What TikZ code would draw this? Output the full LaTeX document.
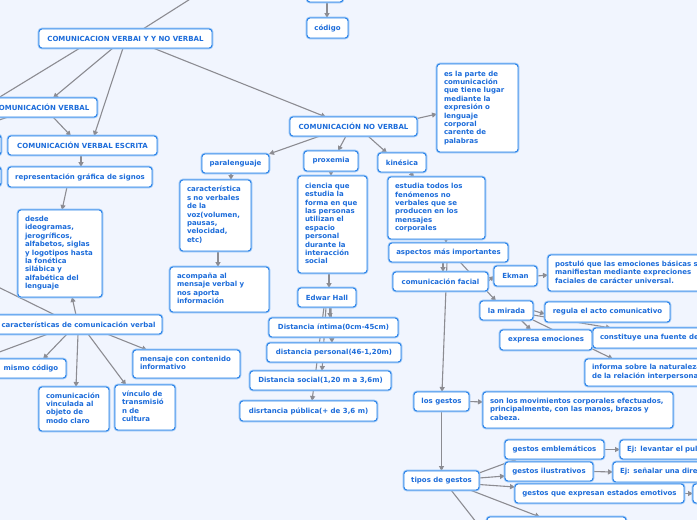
\documentclass[tikz,border=0pt]{standalone}
\usepackage{fontspec}
\newfontfamily\dvs{DejaVu Sans}
\usetikzlibrary{arrows.meta,calc}
\definecolor{bgc}{RGB}{241,245,254}
\definecolor{txt}{RGB}{28,108,218}
\definecolor{bdr}{RGB}{38,128,232}
\definecolor{halo}{RGB}{150,196,246}
\definecolor{lnc}{RGB}{140,140,146}
\pgfdeclarelayer{edges}\pgfdeclarelayer{back}\pgfsetlayers{back,edges,main}
\newcommand\boxS[6]{\node[nbox,minimum width={#4-#2},minimum height={#5-#3}] (#1) at ({(#2+#4)/2},{(#3+#5)/2}) {#6};}
\newcommand\boxM[6]{\pgfmathsetmacro\tw{#4-#2-14}\node[nbox,inner xsep=7pt,align=left,text width=\tw pt,minimum width={#4-#2},minimum height={#5-#3}] (#1) at ({(#2+#4)/2},{(#3+#5)/2}) {\begin{tabular}{@{}l@{}}#6\end{tabular}};}
\begin{document}
\begin{tikzpicture}[x=1pt,y=-1pt,
  nbox/.style={rounded corners=3pt, fill=white, draw=bdr, line width=0.9pt, text=txt,
    font=\dvs\bfseries\fontsize{7}{8.4}\selectfont, inner xsep=3pt, inner ysep=2pt, outer sep=0pt,
    preaction={draw=halo, line width=2.6pt}},
  conn/.style={draw=lnc, line width=1.1pt, -{Triangle[length=5pt,width=5pt]}},
  plain/.style={draw=lnc, line width=1.1pt}]
\begin{pgfonlayer}{back}
\fill[bgc] (0,0) rectangle (697,520);
\end{pgfonlayer}
\useasboundingbox (0,0) rectangle (697,520);

% nodes
\boxS{topbox}{307}{-20}{343}{2}{}
\boxS{codigo}{307}{18}{348}{38}{código}
\boxS{cvnv}{39}{29}{212}{48}{COMUNICACION VERBAI Y Y NO VERBAL}
\boxS{cv}{-14}{98}{97}{117}{COMUNICACIÓN VERBAL}
\boxS{cve}{8}{136}{157}{155}{COMUNICACIÓN VERBAL ESCRITA}
\boxS{left1}{-60}{135}{1}{155}{}
\boxS{left2}{-60}{167}{1}{186}{}
\boxS{rep}{8}{167}{152}{187}{representación gráfica de signos}
\boxM{desde}{18}{210}{102}{297}{desde\\ideogramas,\\jerogríficos,\\alfabetos, siglas\\y logotipos hasta\\la fonética\\silábica y\\alfabética del\\lenguaje}
\boxS{car}{-5}{315}{162}{334}{características de comunicación verbal}
\boxS{mismo}{-4}{359}{66}{378}{mismo código}
\boxM{vinc}{39}{387}{109}{431}{comunicación\\vinculada al\\objeto de\\modo claro}
\boxM{vinculo}{115}{385}{175}{430}{vínculo de\\transmisió\\n de\\cultura}
\boxM{mens}{133}{350}{240}{378}{mensaje con contenido\\informativo}
\boxS{cnv}{290}{117}{417}{136}{COMUNICACIÓN NO VERBAL}
\boxM{parte}{437}{64}{518}{152}{es la parte de\\comunicación\\que tiene lugar\\mediante la\\expresión o\\lenguaje\\corporal\\carente de\\palabras}
\boxS{para}{202}{154}{269}{173}{paralenguaje}
\boxS{prox}{304}{151}{358}{171}{proxemia}
\boxS{kin}{378}{153}{426}{172}{kinésica}
\boxM{caract}{180}{180}{251}{251}{característica\\s no verbales\\de la\\voz(volumen,\\pausas,\\velocidad,\\etc)}
\boxM{acomp}{170}{267}{269}{312}{acompaña al\\mensaje verbal y\\nos aporta\\información}
\boxM{ciencia}{298}{176}{367}{273}{ciencia que\\estudia la\\forma en que\\las personas\\utilizan el\\espacio\\personal\\durante la\\interacción\\social}
\boxS{edwar}{298}{288}{356}{307}{Edwar Hall}
\boxS{intima}{269}{318}{398}{337}{Distancia íntima(0cm-45cm)}
\boxS{personal}{267}{343}{401}{362}{distancia personal(46-1,20m)}
\boxS{social}{250}{371}{391}{390}{Distancia social(1,20 m a 3,6m)}
\boxS{publica}{240}{401}{377}{421}{disrtancia pública(+ de 3,6 m)}
\boxM{estudia}{388}{177}{485}{239}{estudia todos los\\fenómenos no\\verbales que se\\producen en los\\mensajes\\corporales}
\boxS{aspectos}{389}{243}{508}{262}{aspectos más importantes}
\boxS{facial}{393}{272}{488}{291}{comunicación facial}
\boxS{ekman}{494}{266}{537}{286}{Ekman}
\boxM{postulo}{548}{255}{800}{291}{postuló que las emociones básicas se\\manifiestan mediante expreciones\\faciales de carácter universal.}
\boxS{mirada}{480}{301}{533}{320}{la mirada}
\boxS{regula}{545}{302}{670}{322}{regula el acto comunicativo}
\boxS{expresa}{500}{330}{592}{350}{expresa emociones}
\boxM{constituye}{593}{328}{800}{348}{constituye una fuente de información}
\boxM{informa}{585}{359}{800}{386}{informa sobre la naturaleza\\de la relación interpersonal}
\boxS{gestos}{414}{392}{469}{411}{los gestos}
\boxM{son}{483}{392}{673}{428}{son los movimientos corporales efectuados,\\principalmente, con las manos, brazos y\\cabeza.}
\boxS{tipos}{404}{471}{479}{490}{tipos de gestos}
\boxS{emb}{505}{440}{604}{459}{gestos emblemáticos}
\boxM{ejlev}{620}{440}{800}{459}{Ej: levantar el pulgar}
\boxS{ilus}{505}{462}{593}{481}{gestos ilustrativos}
\boxM{ejsen}{613}{462}{800}{482}{Ej: señalar una dirección}
\boxS{emot}{515}{484}{684}{503}{gestos que expresan estados emotivos}
\boxS{part}{693}{484}{800}{503}{}
\boxS{bottom}{487}{517}{626}{540}{}

\coordinate (o1) at (195,-4);
\coordinate (o2) at (-10,103);
\coordinate (o3) at (-10,123);
\coordinate (o4) at (-10,283);
\coordinate (o5) at (-10,355.5);
\coordinate (o6) at (480,527);

\begin{pgfonlayer}{edges}
\draw[plain] ([xshift=17.5]cvnv.north) -- (o1);
\draw[plain] ([xshift=-45.5]cvnv.south) -- (o2);
\draw[plain] ([xshift=-33.5]cv.south) -- (o3);
\draw[plain] ([xshift=-23.5]car.north) -- (o4);
\draw[plain] ([xshift=-30.5]car.south) -- (o5);
\draw[plain] ([xshift=9.5]tipos.south) -- (o6);
\draw[conn] ([xshift=2]topbox.south) -- ([xshift=-0.5]codigo.north);
\draw[conn] ([xshift=-12.5]cvnv.south) -- ([xshift=11.5]cv.north);
\draw[conn] ([xshift=-2.5]cvnv.south) -- ([xshift=11.5]cve.north);
\draw[conn] ([xshift=27.5]cvnv.south) -- ([xshift=-27.5]cnv.north);
\draw[conn] ([xshift=11.5]cv.south) -- ([xshift=-11.5]cve.north);
\draw[conn] ([xshift=-1.5]cve.south) -- ([xshift=1]rep.north);
\draw[conn] ([xshift=-13]rep.south) -- ([xshift=2]desde.north);
\draw[conn] ([xshift=-2.5]car.north) -- ([xshift=12]desde.south);
\draw[conn] ([xshift=-11.5]car.south) -- ([xshift=12]mismo.north);
\draw[conn] ([xshift=-0.5]car.south) -- ([xshift=2]vinc.north);
\draw[conn] ([xshift=9.5]car.south) -- ([xshift=-19]vinculo.north);
\draw[conn] ([xshift=28.5]car.south) -- ([xshift=-39.5]mens.north);
\draw[conn] ([yshift=8]cnv.east) -- ([yshift=-6]parte.west);
\draw[conn] ([xshift=-33.5]cnv.south) -- (para.north east);
\draw[conn] ([xshift=-7.5]cnv.south) -- ([xshift=7]prox.north);
\draw[conn] ([xshift=14.5]cnv.south) -- ([xshift=-15]kin.north);
\draw[conn] ([xshift=-4.5]para.south) -- ([xshift=15.5]caract.north);
\draw[conn] ([xshift=2.5]caract.south) -- ([xshift=-1.5]acomp.north);
\draw[conn] (prox.south) -- ([xshift=-1.5]ciencia.north);
\draw[conn] ([xshift=-3.5]ciencia.south) -- ([xshift=2]edwar.north);
\draw[conn] ([xshift=3]edwar.south) -- ([xshift=-3.5]intima.north);
\draw[conn] ([xshift=4]edwar.south) -- ([xshift=-2]personal.north);
\draw[conn] ([xshift=-1]edwar.south) -- ([xshift=1.5]social.north);
\draw[conn] ([xshift=-3]edwar.south) -- ([xshift=3.5]publica.north);
\draw[conn] ([xshift=8]kin.south) -- ([xshift=-22.5]estudia.north);
\draw[conn] ([xshift=9.5]estudia.south) -- ([xshift=-2.5]aspectos.north);
\draw[conn] ([xshift=-5.5]aspectos.south) -- ([xshift=2.5]facial.north);
\draw[conn] ([xshift=-1.5]aspectos.south) -- ([xshift=0.5]gestos.north);
\draw[conn] ([xshift=11.5]aspectos.south) -- ([xshift=-10.5]mirada.north);
\draw[conn] (facial.east) -- (ekman.west);
\draw[conn] (ekman.east) -- ([yshift=-2]postulo.west);
\draw[conn] (mirada.east) -- ([yshift=-2]regula.west);
\draw[conn] ([xshift=14.5]mirada.south) -- ([xshift=-15]expresa.north);
\draw[conn] ([yshift=-4.5]mirada.east) -- ([xshift=-85.5]constituye.north);
\draw[conn] (mirada.south east) -- ([xshift=-79.5]informa.north);
\draw[conn] (gestos.east) -- ([yshift=8]son.west);
\draw[conn] (gestos.south) -- (tipos.north);
\draw[conn] ([yshift=7.5]tipos.east) -- ([xshift=-37.5]emb.south);
\draw[conn] ([yshift=2.5]tipos.east) -- ([yshift=-4.5]ilus.west);
\draw[conn] ([yshift=-4]tipos.east) -- ([yshift=6.5]emot.west);
\draw[conn] ([xshift=28.5]tipos.south) -- ([xshift=-16.5]bottom.north);
\draw[conn] (emb.east) -- (ejlev.west);
\draw[conn] (ilus.east) -- (ejsen.west);
\draw[conn] (emot.east) -- (part.west);
\end{pgfonlayer}
\end{tikzpicture}
\end{document}
